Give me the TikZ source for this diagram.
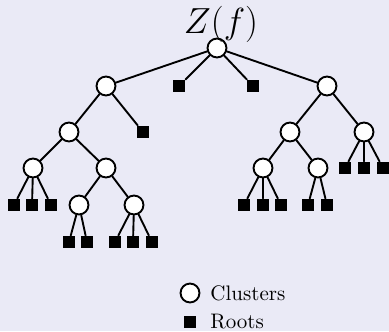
\documentclass[tikz,border=0pt]{standalone}
\definecolor{bgcol}{RGB}{234,234,246}
\tikzset{
  cluster/.style={circle,draw,fill=white,line width=0.9pt,minimum size=9pt,inner sep=0pt},
  root/.style={rectangle,fill=black,minimum size=5.8pt,inner sep=0pt},
  branch/.style={line width=0.9pt}
}
\begin{document}
\begin{tikzpicture}[x=0.476pt,y=-0.476pt,line cap=round,line join=round]
  \fill[bgcol] (0,0) rectangle (389,331);
  \useasboundingbox (0,0) rectangle (389,331);
  % clusters
  \node[cluster] (c0) at (217,48) {};
  \node[cluster] (c1) at (106,86) {};
  \node[cluster] (c2) at (327,86) {};
  \node[cluster] (c11) at (69,132) {};
  \node[cluster] (c111) at (33,168) {};
  \node[cluster] (c112) at (106,168) {};
  \node[cluster] (c1121) at (79,205) {};
  \node[cluster] (c1122) at (134,205) {};
  \node[cluster] (c21) at (290,132) {};
  \node[cluster] (c22) at (364,132) {};
  \node[cluster] (c211) at (263,168) {};
  \node[cluster] (c212) at (318,168) {};
  % roots
  \node[root] (r1) at (179,86) {};
  \node[root] (r2) at (253,86) {};
  \node[root] (r3) at (143,132) {};
  \node[root] (r4) at (14,205) {};
  \node[root] (r5) at (32,205) {};
  \node[root] (r6) at (51,205) {};
  \node[root] (r7) at (69,242) {};
  \node[root] (r8) at (87,242) {};
  \node[root] (r9) at (115,242) {};
  \node[root] (r10) at (133,242) {};
  \node[root] (r11) at (152,242) {};
  \node[root] (r12) at (345,168) {};
  \node[root] (r13) at (364,168) {};
  \node[root] (r14) at (383,168) {};
  \node[root] (r15) at (244,205) {};
  \node[root] (r16) at (263,205) {};
  \node[root] (r17) at (281,205) {};
  \node[root] (r18) at (308,205) {};
  \node[root] (r19) at (327,205) {};
  % branches
  \draw[branch] (c0) -- (c1) (c0) -- (r1) (c0) -- (r2) (c0) -- (c2);
  \draw[branch] (c1) -- (c11) (c1) -- (r3);
  \draw[branch] (c11) -- (c111) (c11) -- (c112);
  \draw[branch] (c111) -- (r4) (c111) -- (r5) (c111) -- (r6);
  \draw[branch] (c112) -- (c1121) (c112) -- (c1122);
  \draw[branch] (c1121) -- (r7) (c1121) -- (r8);
  \draw[branch] (c1122) -- (r9) (c1122) -- (r10) (c1122) -- (r11);
  \draw[branch] (c2) -- (c21) (c2) -- (c22);
  \draw[branch] (c22) -- (r12) (c22) -- (r13) (c22) -- (r14);
  \draw[branch] (c21) -- (c211) (c21) -- (c212);
  \draw[branch] (c211) -- (r15) (c211) -- (r16) (c211) -- (r17);
  \draw[branch] (c212) -- (r18) (c212) -- (r19);
  \node[font=\LARGE] (zf) at (221,24) {$Z(f)$};
  % legend
  \node[cluster] (lc) at (190,293) {};
  \node[root] (lr) at (190,322) {};
  \node[anchor=west] (lct) at (203,293) {Clusters};
  \node[anchor=west] (lrt) at (203,322) {Roots};
\end{tikzpicture}
\end{document}
